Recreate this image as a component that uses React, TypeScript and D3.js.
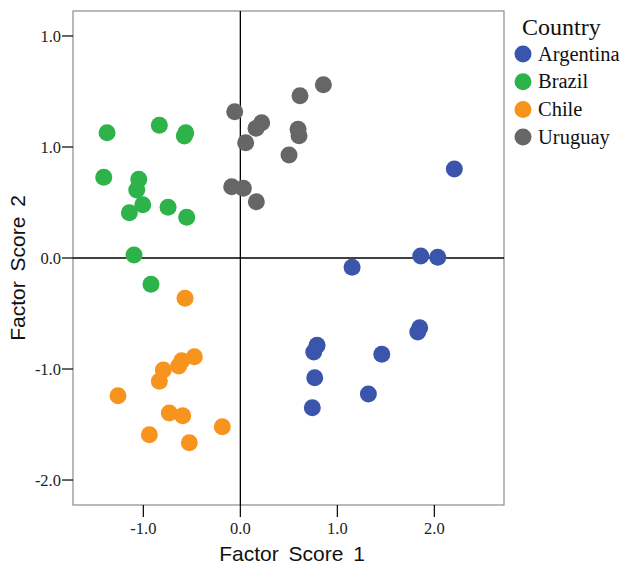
import React from "react";
import * as d3 from "d3";

const countries = ["Argentina", "Brazil", "Chile", "Uruguay"];
const colors = ["#3b55ac", "#2db34a", "#f7941d", "#666666"];

const argentinaX = [2.206, 1.86, 2.035, 1.152, 1.849, 1.829, 0.791, 0.757, 1.458, 0.767, 1.32, 0.742];
const argentinaY = [0.802, 0.018, 0.006, -0.084, -0.628, -0.667, -0.787, -0.847, -0.868, -1.078, -1.225, -1.348];
const brazilX = [-1.374, -0.835, -0.563, -0.577, -1.408, -1.047, -1.068, -1.006, -1.144, -0.745, -0.553, -1.096, -0.921];
const brazilY = [1.129, 1.195, 1.129, 1.099, 0.727, 0.709, 0.613, 0.48, 0.408, 0.457, 0.367, 0.027, -0.237];
const chileX = [-0.57, -0.474, -0.604, -0.635, -0.794, -0.835, -1.261, -0.732, -0.594, -0.186, -0.938, -0.526];
const chileY = [-0.363, -0.889, -0.925, -0.973, -1.009, -1.111, -1.24, -1.396, -1.421, -1.52, -1.592, -1.664];
const uruguayX = [0.856, 0.615, -0.058, 0.22, 0.162, 0.595, 0.605, 0.055, 0.502, -0.089, 0.031, 0.165];
const uruguayY = [1.561, 1.462, 1.318, 1.219, 1.168, 1.159, 1.102, 1.039, 0.928, 0.642, 0.628, 0.507];

const xTickValues = [-1, 0, 1, 2];
const xTickLabels = ["-1.0", "0.0", "1.0", "2.0"];
const yTickValues = [-2, -1, 0, 1, 2];
const yTickLabels = ["-2.0", "-1.0", "0.0", "1.0", "1.0"];

const seriesX = [argentinaX, brazilX, chileX, uruguayX];
const seriesY = [argentinaY, brazilY, chileY, uruguayY];

export default function App() {
  const left = 73, right = 504, top = 11, bottom = 505;
  const x = d3.scaleLinear().domain([-1.725, 2.718]).range([left, right]);
  const y = d3.scaleLinear().domain([-2.225, 2.225]).range([bottom, top]);
  const serif = "'Liberation Serif', 'Times New Roman', serif";
  const sans = "'Liberation Sans', Arial, sans-serif";
  const points = seriesX.flatMap((xs, s) =>
    xs.map((v, i) => ({ x: v, y: seriesY[s][i], c: colors[s], k: `${s}-${i}` }))
  );
  return (
    <svg width={627} height={566} style={{ position: "absolute", left: 0, top: 0, background: "#fff" }}>
      <rect x={left} y={top} width={right - left} height={bottom - top} fill="#fff" stroke="#8a8a8a" strokeWidth={1.2} />
      <line x1={x(0)} x2={x(0)} y1={top} y2={bottom} stroke="#000" strokeWidth={1.3} />
      <line x1={left} x2={right} y1={y(0)} y2={y(0)} stroke="#000" strokeWidth={1.3} />
      {points.map((p) => (
        <circle key={p.k} cx={x(p.x)} cy={y(p.y)} r={8.5} fill={p.c} />
      ))}
      {yTickValues.map((v, i) => (
        <g key={`y${i}`}>
          <line x1={left - 11} x2={left} y1={y(v)} y2={y(v)} stroke="#000" strokeWidth={1.2} />
          <text x={left - 12} y={y(v)} dy="0.35em" textAnchor="end" fontFamily={serif} fontSize={16.5} fill="#222">
            {yTickLabels[i]}
          </text>
        </g>
      ))}
      {xTickValues.map((v, i) => (
        <g key={`x${i}`}>
          <line x1={x(v)} x2={x(v)} y1={bottom} y2={bottom + 12} stroke="#000" strokeWidth={1.2} />
          <text x={x(v)} y={534} textAnchor="middle" fontFamily={serif} fontSize={16.5} fill="#222">
            {xTickLabels[i]}
          </text>
        </g>
      ))}
      <text x={292} y={561} textAnchor="middle" fontFamily={sans} fontSize={21} fill="#111" wordSpacing={4}>
        Factor Score 1
      </text>
      <text transform={`translate(25, 268) rotate(-90)`} textAnchor="middle" fontFamily={sans} fontSize={21} fill="#111" wordSpacing={4}>
        Factor Score 2
      </text>
      <text x={522} y={35} fontFamily={serif} fontSize={24} fill="#111">Country</text>
      {countries.map((c, i) => (
        <g key={c}>
          <circle cx={523} cy={54 + i * 27.7} r={8.5} fill={colors[i]} />
          <text x={538} y={54 + i * 27.7} dy="0.33em" fontFamily={serif} fontSize={20.5} fill="#111">{c}</text>
        </g>
      ))}
    </svg>
  );
}
